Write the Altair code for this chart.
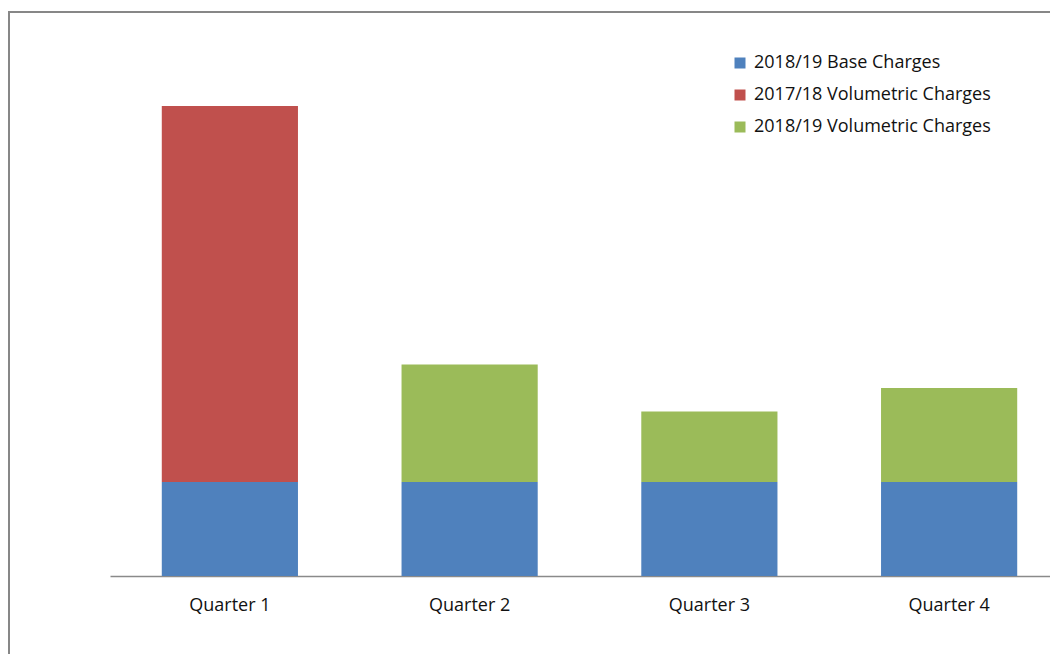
import altair as alt
import pandas as pd

quarters = ["Quarter 1", "Quarter 2", "Quarter 3", "Quarter 4"]
series = ["2018/19 Base Charges", "2017/18 Volumetric Charges", "2018/19 Volumetric Charges"]
colors = ["#4F81BD", "#C0504D", "#9BBB59"]
base_1819 = [1.0, 1.0, 1.0, 1.0]
vol_1718 = [4.0, 0.0, 0.0, 0.0]
vol_1819 = [0.0, 1.25, 0.75, 1.0]

rows = []
for i, q in enumerate(quarters):
    for k, (s, vals) in enumerate(zip(series, [base_1819, vol_1718, vol_1819])):
        if vals[i] > 0:
            rows.append({"quarter": q, "series": s, "value": vals[i], "order": k})
df = pd.DataFrame(rows)

W, H = 1042, 568
FONT = "Open Sans"
FS = 18

bars = alt.Chart(df).mark_bar(stroke=None).encode(
    x=alt.X("quarter:N", sort=quarters, title=None,
            scale=alt.Scale(range=[102, 1061], paddingInner=0.432, paddingOuter=0.216),
            axis=alt.Axis(labelAngle=0, ticks=False, tickSize=0, domainColor="#8a8a8a",
                          domainWidth=1.6, labelFont=FONT, labelFontSize=FS,
                          labelColor="#111111", labelBaseline="alphabetic",
                          labelPadding=34)),
    y=alt.Y("value:Q", stack="zero", axis=None,
            scale=alt.Scale(domain=[0, H / 94.0], nice=False, zero=True)),
    color=alt.Color("series:N",
                    scale=alt.Scale(domain=series, range=colors),
                    legend=alt.Legend(title=None, orient="none", legendX=723, legendY=46,
                                      symbolType="square", symbolSize=121,
                                      symbolStrokeWidth=0, labelFont=FONT,
                                      labelFontSize=FS, labelColor="#111111",
                                      labelLimit=0,
                                      rowPadding=14, labelOffset=5, padding=0)),
    order=alt.Order("order:Q", sort="ascending"),
)

border_data = alt.Data(values=[{"a": 1}])
top_border = alt.Chart(border_data).mark_rule(color="#878787", strokeWidth=2).encode(
    x=alt.value(0), x2=alt.value(W), y=alt.value(4)
)
left_border = alt.Chart(border_data).mark_rule(color="#878787", strokeWidth=2).encode(
    x=alt.value(1), y=alt.value(4), y2=alt.value(660)
)

chart = alt.layer(bars, top_border, left_border).properties(
    width=W, height=H,
    background="white",
    padding={"left": 0, "top": 0, "right": 0, "bottom": 78},
    autosize=alt.AutoSizeParams(type="none"),
).configure_view(strokeWidth=0, stroke="transparent")

chart.save("out.html", embed_options={"renderer": "svg", "actions": False})
